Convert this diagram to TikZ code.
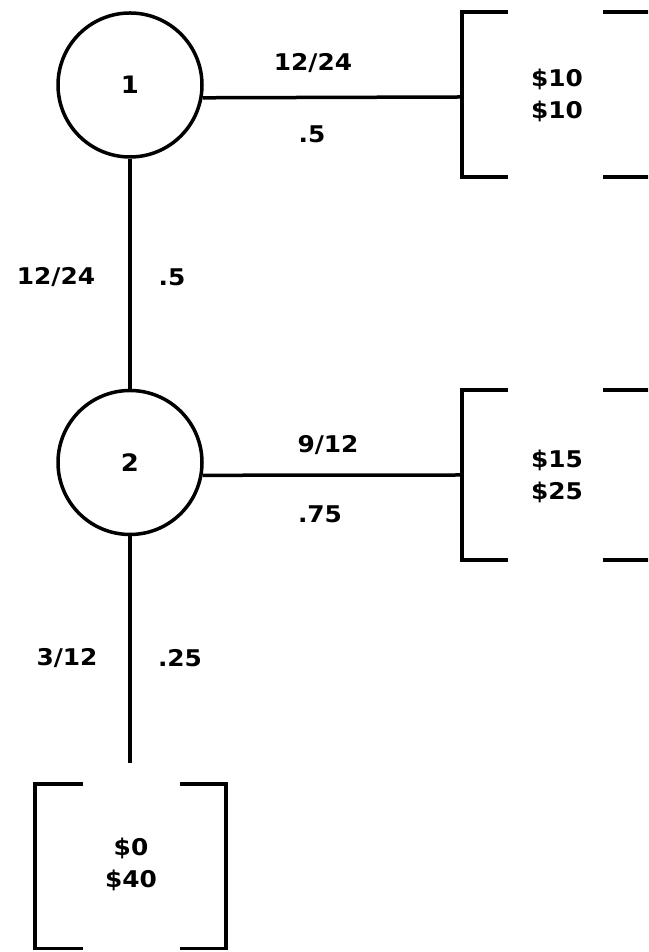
\documentclass[tikz,border=0pt]{standalone}
\usepackage{fontspec}
\setmainfont{DejaVu Sans}
\newfontfamily\lblfont[FakeStretch=1.08]{DejaVu Sans Bold}
\begin{document}
\begin{tikzpicture}[x=1pt,y=1pt,
  line width=3.5pt,
  chance/.style={draw,circle,minimum size=144pt,inner sep=0pt,line width=3.5pt,font=\lblfont\fontsize{24}{26}\selectfont},
  lbl/.style={font=\lblfont\fontsize{23}{26}\selectfont,inner sep=0pt},
  payoff/.style={font=\lblfont\fontsize{23}{32}\selectfont,align=center,inner sep=0pt},
  brk/.style={line width=3.5pt,line cap=butt,line join=miter}]
\useasboundingbox (0,0) rectangle (648,952);
\clip (0,0) rectangle (648,952);
% chance nodes
\node[chance] (c1) at (130,867) {1};
\node[chance] (c2) at (130,489.5) {2};
% bracket anchor points
\coordinate (b1) at (462,855);
\coordinate (b2) at (462,477);
\coordinate (e3) at (130,189);
% brackets
\draw[brk] (508,940) -- (462,940) -- (462,775) -- (508,775);
\draw[brk] (603,940) -- (652,940) -- (652,775) -- (603,775);
\draw[brk] (508,562) -- (462,562) -- (462,392) -- (508,392);
\draw[brk] (603,562) -- (652,562) -- (652,392) -- (603,392);
\draw[brk] (83,168) -- (35,168) -- (35,3.5) -- (83,3.5);
\draw[brk] (180,168) -- (226,168) -- (226,3.5) -- (180,3.5);
% connectors
\draw (c1.-10) -- (b1);
\draw (c1.south) -- (c2.north);
\draw (c2.-10) -- (b2);
\draw (c2.south) -- (e3);
% payoffs
\node[payoff] (p1) at (557,857) {\$10\\\$10};
\node[payoff] (p2) at (557,476) {\$15\\\$25};
\node[payoff] (p3) at (131,88) {\$0\\\$40};
% labels
\node[lbl] (l1a) at (313,889) {12/24};
\node[lbl] (l1b) at (312,818) {.5};
\node[lbl] (l2a) at (56,675) {12/24};
\node[lbl] (l2b) at (172,675) {.5};
\node[lbl] (l3a) at (328,507) {9/12};
\node[lbl] (l3b) at (320,438) {.75};
\node[lbl] (l4a) at (67,294) {3/12};
\node[lbl] (l4b) at (180,294) {.25};
\end{tikzpicture}
\end{document}
